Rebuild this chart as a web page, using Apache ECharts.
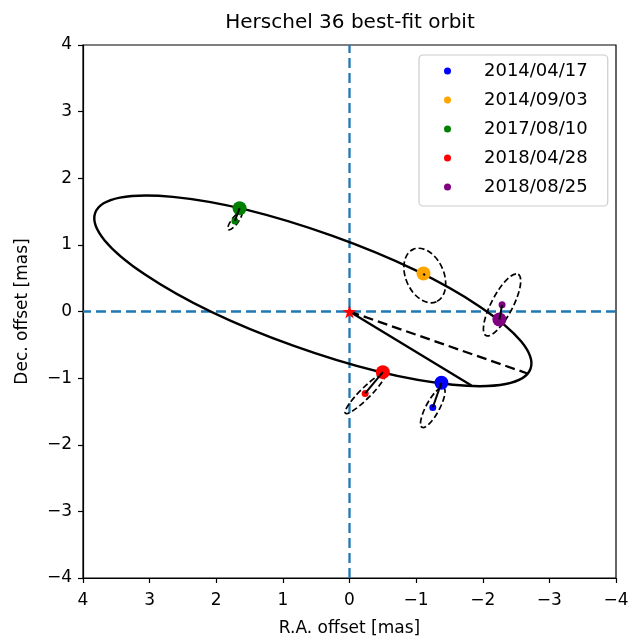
<!DOCTYPE html>
<html>
<head>
<meta charset="utf-8">
<script src="https://cdn.jsdelivr.net/npm/echarts@6/dist/echarts.min.js"></script>
<style>html,body{margin:0;padding:0;background:#fff}#c{width:633px;height:638px}</style>
</head>
<body>
<div id="c"></div>
<script>
// ---- data ----
const dates = ['2014/04/17', '2014/09/03', '2017/08/10', '2018/04/28', '2018/08/25'];
const colors = ['#0000ff', '#ffa500', '#008000', '#ff0000', '#800080'];
// model (best-fit orbit) positions, mas
const modelRA  = [-1.38, -1.11, 1.65, -0.50, -2.25];
const modelDec = [-1.07,  0.57, 1.55, -0.91, -0.12];
// observed positions, mas
const obsRA  = [-1.25, -1.13, 1.72, -0.235, -2.29];
const obsDec = [-1.44,  0.54, 1.36, -1.23,   0.10];
// error ellipses: semi-major, semi-minor (mas), orientation (deg from +RA axis)
const errMajor = [0.34, 0.43, 0.165, 0.42, 0.52];
const errMinor = [0.10, 0.285, 0.05, 0.08, 0.16];
const errAngle = [-61.6, 66, -53, -45, -62.3];
// apparent orbit ellipse: centre RA, centre Dec, semi-major, semi-minor, orientation (deg)
const orbitEllipse = [0.55, 0.31, 3.47, 0.875, 19.7];
// central star
const star = [0, 0];
// periastron (solid) and line to far point (dashed)
const periastron = [-1.83, -1.11];
const farPoint = [-2.67, -0.93];
// axes
const axisMin = -4, axisMax = 4, axisStep = 1;

const FONT = 'DejaVu Sans';
const minusFmt = v => (v < 0 ? '\u2212' + Math.abs(v) : String(v));

function ellipseShape(params, api, style) {
  const cx = api.value(0), cy = api.value(1), a = api.value(2), b = api.value(3);
  const t = api.value(4) * Math.PI / 180;
  const c = api.coord([cx, cy]);
  const pa = api.coord([cx + a * Math.cos(t), cy + a * Math.sin(t)]);
  const pb = api.coord([cx - b * Math.sin(t), cy + b * Math.cos(t)]);
  const rx = Math.hypot(pa[0] - c[0], pa[1] - c[1]);
  const ry = Math.hypot(pb[0] - c[0], pb[1] - c[1]);
  const rot = -Math.atan2(pa[1] - c[1], pa[0] - c[0]);
  return {
    type: 'ellipse', x: c[0], y: c[1], rotation: rot,
    shape: { cx: 0, cy: 0, rx: rx, ry: ry },
    style: style
  };
}

const series = [];
// dashed reference axes
series.push({
  type: 'line', data: [[0, axisMin], [0, axisMax]], symbol: 'none', silent: true, z: 1,
  lineStyle: { color: '#1f77b4', width: 2.3, type: [10, 5] }
});
series.push({
  type: 'line', data: [[axisMin, 0], [axisMax, 0]], symbol: 'none', silent: true, z: 1,
  lineStyle: { color: '#1f77b4', width: 2.3, type: [10, 5] }
});
// orbit
series.push({
  type: 'custom', z: 2, silent: true,
  data: [orbitEllipse],
  renderItem: (p, api) => ellipseShape(p, api, { stroke: '#000', fill: null, lineWidth: 2.4 })
});
// periastron line
series.push({
  type: 'line', data: [star, periastron], symbol: 'none', silent: true, z: 2,
  lineStyle: { color: '#000', width: 2.3 }
});
series.push({
  type: 'line', data: [star, farPoint], symbol: 'none', silent: true, z: 2,
  lineStyle: { color: '#000', width: 2.3, type: [10, 5] }
});
// error ellipses
series.push({
  type: 'custom', z: 3, silent: true,
  data: dates.map((d, i) => [obsRA[i], obsDec[i], errMajor[i], errMinor[i], errAngle[i]]),
  renderItem: (p, api) => ellipseShape(p, api, { stroke: '#000', fill: null, lineWidth: 1.7, lineDash: [6, 3] })
});
// points per epoch
dates.forEach((d, i) => {
  series.push({
    name: d, type: 'scatter', z: 4, symbol: 'circle', symbolKeepAspect: true,
    itemStyle: { color: colors[i], opacity: 1 },
    data: [
      { value: [modelRA[i], modelDec[i]], symbolSize: 14 },
      { value: [obsRA[i], obsDec[i]], symbolSize: 7 }
    ]
  });
  series.push({
    type: 'line', z: 5, symbol: 'none', silent: true,
    data: [[obsRA[i], obsDec[i]], [modelRA[i], modelDec[i]]],
    lineStyle: { color: '#000', width: 2 }
  });
});
// central star
series.push({
  type: 'scatter', z: 6, silent: true,
  symbol: 'path://M50,0 L61,35 L98,35 L68,57 L79,91 L50,70 L21,91 L32,57 L2,35 L39,35 Z',
  symbolSize: 14, itemStyle: { color: '#ff0000', opacity: 1 },
  data: [star]
});

const axisCommon = {
  type: 'value', min: axisMin, max: axisMax, interval: axisStep,
  splitLine: { show: false },
  axisLine: { show: true, onZero: false, lineStyle: { color: '#000', width: 1.2 } },
  axisTick: { show: true, length: 5, lineStyle: { color: '#000', width: 1.2 } },
  axisLabel: { color: '#000', fontFamily: FONT, fontSize: 17, formatter: minusFmt },
  nameLocation: 'middle',
  nameTextStyle: { color: '#000', fontFamily: FONT, fontSize: 17 }
};

const chart = echarts.init(document.getElementById('c'), null, { renderer: 'canvas' });
chart.setOption({
  animation: false,
  backgroundColor: '#fff',
  title: {
    text: 'Herschel 36 best-fit orbit', left: 350, textAlign: 'center', top: 13, padding: 0,
    textStyle: { color: '#000', fontFamily: FONT, fontSize: 20, fontWeight: 'normal' }
  },
  grid: {
    left: 83, top: 45, width: 533, height: 533, show: true, borderColor: '#000', borderWidth: 1.2,
    backgroundColor: 'transparent', containLabel: false, outerBoundsMode: 'none'
  },
  xAxis: Object.assign({}, axisCommon, {
    inverse: true, name: 'R.A. offset [mas]', nameGap: 42,
    axisLabel: Object.assign({}, axisCommon.axisLabel, { margin: 14 })
  }),
  yAxis: Object.assign({}, axisCommon, {
    name: 'Dec. offset [mas]', nameGap: 52,
    axisLabel: Object.assign({}, axisCommon.axisLabel, { margin: 11 })
  }),
  legend: {
    orient: 'vertical', left: 419, top: 55,
    data: dates.map(d => ({ name: d, icon: 'circle' })),
    itemWidth: 7, itemHeight: 7, itemGap: 9,
    padding: [6, 20, 9, 25],
    backgroundColor: '#fff', borderColor: '#cccccc', borderWidth: 1.2, borderRadius: 4,
    textStyle: { color: '#000', fontFamily: FONT, fontSize: 18, lineHeight: 20, padding: [0, 0, 0, 28] },
    selectedMode: false
  },
  series: series
});
</script>
</body>
</html>
